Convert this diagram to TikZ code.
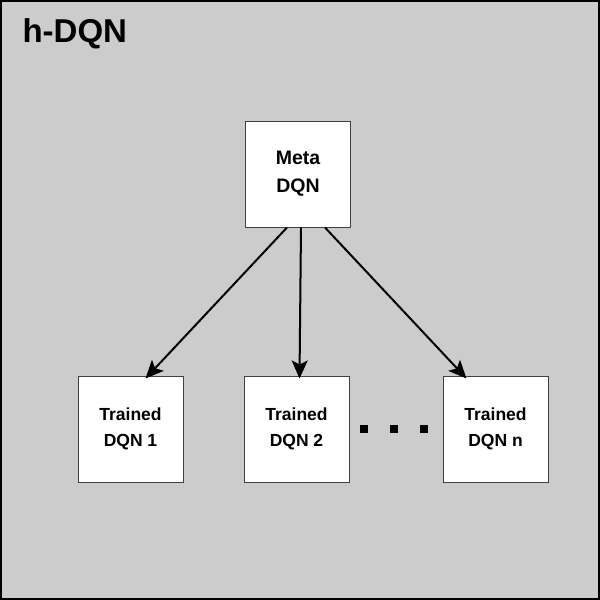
\documentclass[tikz,border=0pt]{standalone}
\usepackage{fontspec}
\setmainfont{Liberation Sans}
\usetikzlibrary{arrows.meta}
\begin{document}
\begin{tikzpicture}[x=1pt,y=-1pt,
  box/.style={draw=black!75, line width=1pt, fill=white, minimum width=105pt, minimum height=106pt, inner sep=0pt, align=center, font=\bfseries},
  conn/.style={line width=2pt, -{Stealth[length=18pt,width=16pt,inset=4pt]}},
  dot/.style={fill=black, minimum size=8pt, inner sep=0pt, draw=none}]
\useasboundingbox (0,0) rectangle (600,600);
\draw[fill=black!20, line width=2pt] (1,1) rectangle (599,599);
\node[anchor=west, font=\fontsize{33}{36}\selectfont\bfseries] (title) at (19,34) {h-DQN};
\node[box, font=\fontsize{19.5}{28}\selectfont\bfseries] (meta) at (298,174) {Meta\\DQN};
\node[box, font=\fontsize{17.5}{26}\selectfont\bfseries] (t1) at (130.5,429) {Trained\\DQN 1};
\node[box, font=\fontsize{17.5}{26}\selectfont\bfseries] (t2) at (296.5,429) {Trained\\DQN 2};
\node[box, font=\fontsize{17.5}{26}\selectfont\bfseries] (tn) at (495.5,429) {Trained\\DQN n};
\node[dot] (d1) at (364,429) {};
\node[dot] (d2) at (394,429) {};
\node[dot] (d3) at (424,429) {};
\draw[conn] ([xshift=-11pt]meta.south) -- ([xshift=15pt,yshift=-3pt]t1.north);
\draw[conn] ([xshift=3pt]meta.south) -- ([xshift=3pt,yshift=-3pt]t2.north);
\draw[conn] ([xshift=27pt]meta.south) -- ([xshift=-29pt,yshift=-3pt]tn.north);
\end{tikzpicture}
\end{document}
